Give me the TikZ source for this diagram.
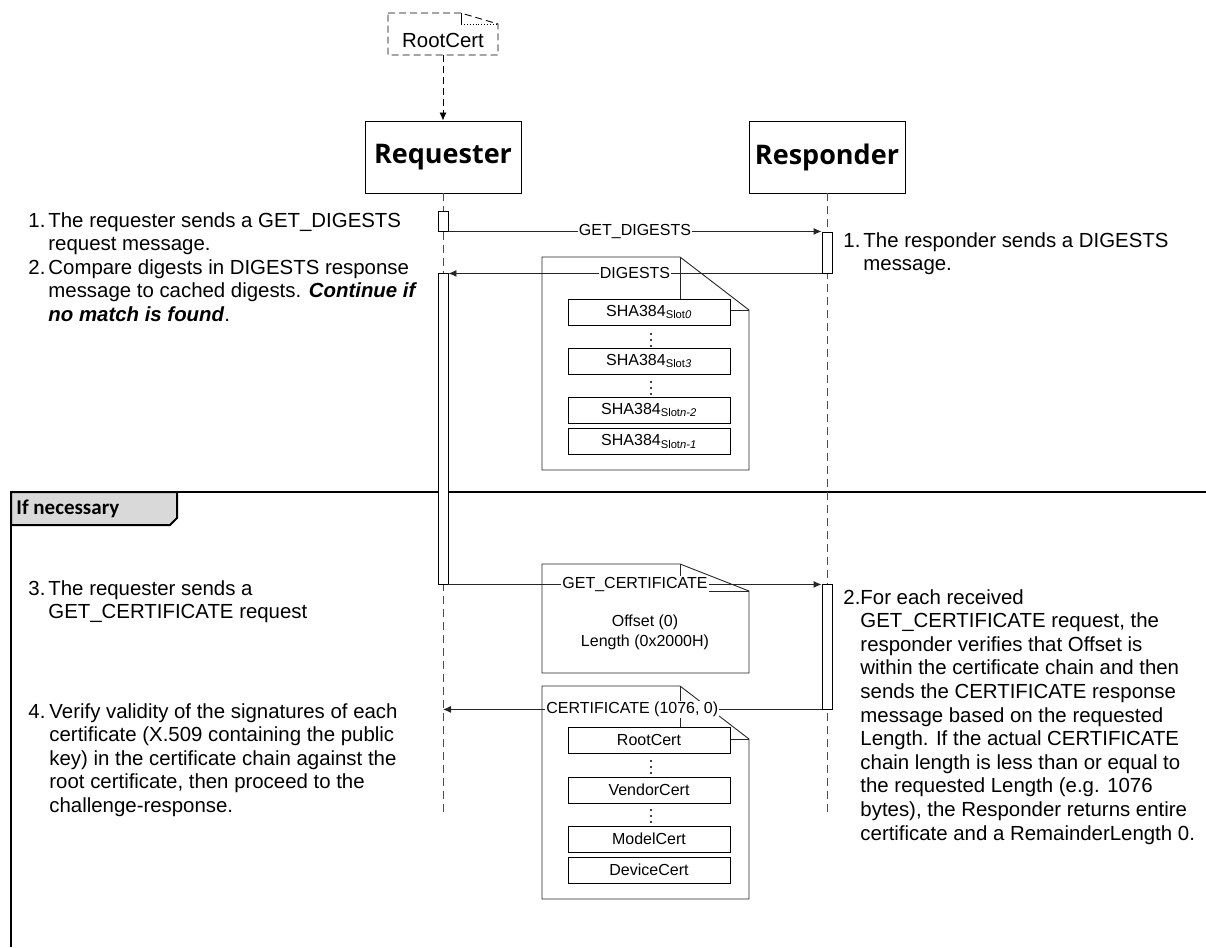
\documentclass[tikz,border=0pt]{standalone}
\usepackage{fontspec}
\setmainfont{Liberation Sans}
\newfontfamily\actorfont{Open Sans}
\newfontfamily\framefont{Carlito}
\usetikzlibrary{arrows.meta}

\newcommand{\slot}[1]{\textsubscript{Slot\textit{#1}}}
% Hanging numbers for the step texts.
\newcommand{\lead}[2][20pt]{\makebox[#1][l]{#2}}
\newcommand{\cont}[1][20pt]{\hspace*{#1}}

\begin{document}
\begin{tikzpicture}[%
        x = 1pt,
        y = -1pt,
        > = {Latex[length = 8pt, width = 7pt]},
        line width = 0.9pt,
        font = \fontsize{20.4}{23.6}\selectfont,
        actor/.style = {draw, minimum width = 156pt, minimum height = 72pt,
            font = \actorfont\bfseries\fontsize{27}{30}\selectfont},
        lifeline/.style = {draw = black!70, dash pattern = on 8pt off 5pt},
        actbar/.style = {draw, fill = white, minimum width = 10pt, inner sep = 0pt},
        msg/.style = {->, draw = black!85},
        msglabel/.style = {fill = white, inner sep = 1pt,
            font = \fontsize{16}{19}\selectfont},
        entry/.style = {draw, fill = white, minimum width = 162pt,
            minimum height = 26pt, inner sep = 0pt,
            font = \fontsize{16}{19}\selectfont},
        notebox/.style = {draw = black!85},
        remark/.style = {anchor = base west, align = left, inner sep = 0pt}
    ]

        \useasboundingbox (0, 0) rectangle (1206, 947);

        % The optional frame with its tab.
        \begin{scope}[line width = 2pt]
            \draw (11, 947) -- (11, 492) -- (1206, 492);
            \draw[fill = black!15] (11, 492) -- (177, 492) -- (177, 518)
                -- (170, 525) -- (11, 525) -- cycle;
        \end{scope}
        \node[anchor = base west, inner sep = 0pt,
            font = \framefont\bfseries\fontsize{21}{24}\selectfont]
            (cond) at (16, 514) {If necessary};

        % The cached root certificate above the requester.
        \draw[dash pattern = on 7pt off 4pt] (388, 13) -- (461, 13) -- (498, 24)
            -- (498, 55) -- (388, 55) -- cycle;
        \draw (461, 13) -- (461, 24);
        \draw[dotted] (461, 24) -- (498, 24);
        \node (rootcert) at (443, 40) {RootCert};
        \coordinate (rootfoot) at (443, 55);

        % The two parties and their lifelines.
        \node[actor] (req) at (443, 157) {Requester};
        \node[actor] (resp) at (827, 157) {Responder};
        \draw[->, dash pattern = on 7pt off 4pt] (rootfoot) -- (req);

        \coordinate (reqend) at (443, 815);
        \coordinate (respend) at (827, 815);
        \draw[lifeline] (req) -- (reqend);
        \draw[lifeline] (resp) -- (respend);

        % Activation bars.
        \node[actbar, minimum height = 20pt] (act1) at (443, 221) {};
        \node[actbar, minimum height = 41pt] (act2) at (827, 252.5) {};
        \node[actbar, minimum height = 311pt] (act3) at (443, 428.5) {};
        \node[actbar, minimum height = 125pt] (act4) at (827, 646.5) {};

        % The message payloads, drawn as folded notes.
        \foreach \top/\bot/\fold in {257/470/310, 564/673/591, 686/899/739}{%
            \draw[notebox] (542, \top) -- (680, \top) -- (749, \fold)
                -- (749, \bot) -- (542, \bot) -- cycle;
            \draw[notebox] (680, \top) -- (680, \fold) -- (749, \fold);
        }

        % Digests held in the slots.
        \foreach \name/\y/\txt in {sha0/312/{SHA384\slot{0}},
            sha3/361/{SHA384\slot{3}}, shan2/410/{SHA384\slot{n-2}},
            shan1/441.5/{SHA384\slot{n-1}}}{%
            \node[entry] (\name) at (649, \y) {\txt};
        }

        % Certificates of the chain.
        \foreach \name/\y/\txt in {root/740/RootCert, vendor/790/VendorCert,
            model/839/ModelCert, device/870/DeviceCert}{%
            \node[entry] (\name) at (649, \y) {\txt};
        }

        % Vertical dots between the entries.
        \foreach \y in {340, 388, 767, 816}{%
            \foreach \d in {-6, 0, 6}{%
                \fill (651, \y + \d) circle (1.1pt);
            }
        }

        \node[align = center, font = \fontsize{16}{20}\selectfont]
            (params) at (645, 632) {Offset (0)\\Length (0x2000H)};

        % Messages between the bars.
        \draw[msg] (act1.south east) -- (act1.south east -| act2.west)
            node[msglabel, midway] {GET\_DIGESTS};
        \draw[msg] (act2.south west) -- (act2.south west -| act3.east)
            node[msglabel, midway] {DIGESTS};
        \draw[msg] (act3.south east) -- (act3.south east -| act4.west)
            node[msglabel, midway] {GET\_CERTIFICATE};
        \draw[msg] (act4.south west) -- (act4.south west -| reqend)
            node[msglabel, midway] {CERTIFICATE (1076, 0)};

        % Steps on the requester side (base is the last line).
        \node[remark] (rq1) at (28, 250.6)
            {\lead{1.}The requester sends a GET\_DIGESTS\\
             \cont request message.};
        \node[remark] (rq2) at (28, 321.2)
            {\lead{2.}Compare digests in DIGESTS response\\
             \cont message to cached digests. \textbf{\textit{Continue if}}\\
             \cont\textbf{\textit{no match is found}}.};
        \node[remark] (rq3) at (28, 618.6)
            {\lead{3.}The requester sends a\\
             \cont GET\_CERTIFICATE request};
        \node[remark] (rq4) at (28, 812.4)
            {\lead[21pt]{4.}Verify validity of the signatures of each\\
             \cont[21pt]certificate (X.509 containing the public\\
             \cont[21pt]key) in the certificate chain against the\\
             \cont[21pt]root certificate, then proceed to the\\
             \cont[21pt]challenge-response.};

        % Steps on the responder side.
        \node[remark] (rs1) at (843, 270.6)
            {\lead{1.}The responder sends a DIGESTS\\
             \cont message.};
        \node[remark] (rs2) at (843, 840)
            {\lead[17pt]{2.}For each received\\
             \cont[17pt]GET\_CERTIFICATE request, the\\
             \cont[17pt]responder verifies that Offset is\\
             \cont[17pt]within the certificate chain and then\\
             \cont[17pt]sends the CERTIFICATE response\\
             \cont[17pt]message based on the requested\\
             \cont[17pt]Length. If the actual CERTIFICATE\\
             \cont[17pt]chain length is less than or equal to\\
             \cont[17pt]the requested Length (e.g. 1076\\
             \cont[17pt]bytes), the Responder returns entire\\
             \cont[17pt]certificate and a RemainderLength 0.};
    \end{tikzpicture}
\end{document}
